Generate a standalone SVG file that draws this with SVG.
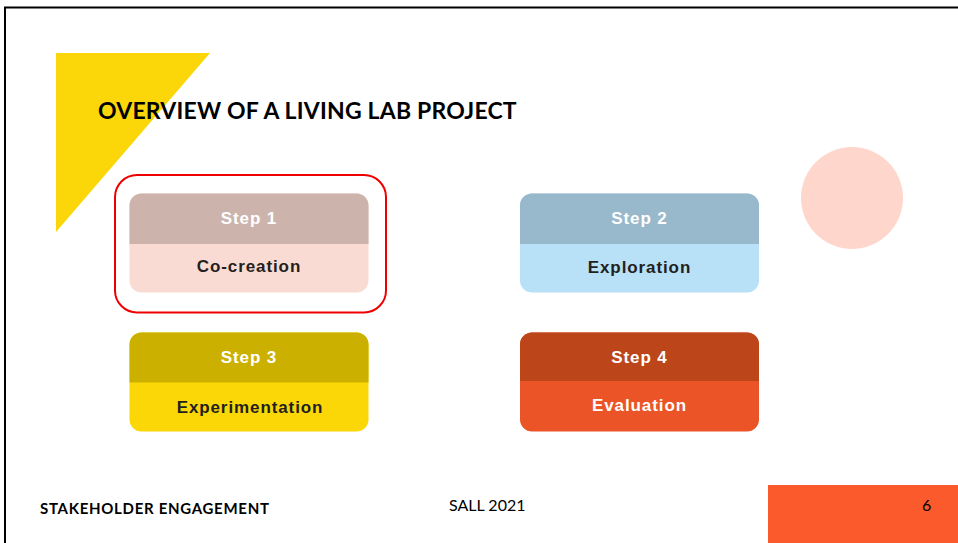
<svg xmlns="http://www.w3.org/2000/svg" width="958" height="543" viewBox="0 0 958 543">
<style>
.step{font-family:"Liberation Sans",Arial,sans-serif;font-weight:bold;font-size:17px;text-anchor:middle;letter-spacing:0.9px}
.w{fill:#ffffff}
.d{fill:#231f20}
.lato{font-family:Lato,"Liberation Sans",sans-serif}
</style>
<rect x="0" y="0" width="958" height="543" fill="#ffffff"/>
<rect x="5" y="7.5" width="1000" height="600" fill="none" stroke="#000000" stroke-width="2"/>
<polygon points="56,53 210,53 56,232" fill="#fbd609"/>
<text class="lato" x="98" y="119" font-size="23" font-weight="bold" fill="#000000" letter-spacing="0.2">OVERVIEW OF A LIVING LAB PROJECT</text>
<circle cx="852" cy="198" r="51" fill="#ffd6cc"/>
<g id="highlight">
<rect x="115" y="175" width="271" height="137.5" rx="22" fill="none" stroke="#ee0000" stroke-width="2"/>
</g>
<g id="step1">
<rect x="129.5" y="193.5" width="239" height="99" rx="12" fill="#fadbd3"/>
<path d="M129.5,244 V205.5 a12,12 0 0 1 12,-12 H356.5 a12,12 0 0 1 12,12 V244 Z" fill="#ccb4ad"/>
<text class="step w" x="249" y="224">Step 1</text>
<text class="step d" x="249" y="272">Co-creation</text>
</g>
<g id="step2">
<rect x="520" y="193.5" width="239" height="99" rx="12" fill="#b8e0f7"/>
<path d="M520,244 V205.5 a12,12 0 0 1 12,-12 H747 a12,12 0 0 1 12,12 V244 Z" fill="#98b8cb"/>
<text class="step w" x="639.5" y="223.5">Step 2</text>
<text class="step d" x="639.5" y="272.5">Exploration</text>
</g>
<g id="step3">
<rect x="129.5" y="332.5" width="239" height="99" rx="12" fill="#fbd707"/>
<path d="M129.5,382.5 V344.5 a12,12 0 0 1 12,-12 H356.5 a12,12 0 0 1 12,12 V382.5 Z" fill="#ccb000"/>
<text class="step w" x="249" y="362.5">Step 3</text>
<text class="step d" x="250" y="412.5">Experimentation</text>
</g>
<g id="step4">
<rect x="520" y="332.5" width="239" height="99" rx="12" fill="#eb5427"/>
<path d="M520,381 V344.5 a12,12 0 0 1 12,-12 H747 a12,12 0 0 1 12,12 V381 Z" fill="#bc451a"/>
<text class="step w" x="639.5" y="362.5">Step 4</text>
<text class="step w" x="639.5" y="411">Evaluation</text>
</g>
<g id="connectors"></g>
<rect x="768" y="485" width="200" height="60" fill="#fa5a2c"/>
<text class="lato" x="40" y="514" font-size="15" font-weight="bold" fill="#000000" letter-spacing="0.7">STAKEHOLDER ENGAGEMENT</text>
<text class="lato" x="449" y="511" font-size="16" fill="#000000">SALL 2021</text>
<text class="lato" x="922" y="511" font-size="16" fill="#000000">6</text>
</svg>
